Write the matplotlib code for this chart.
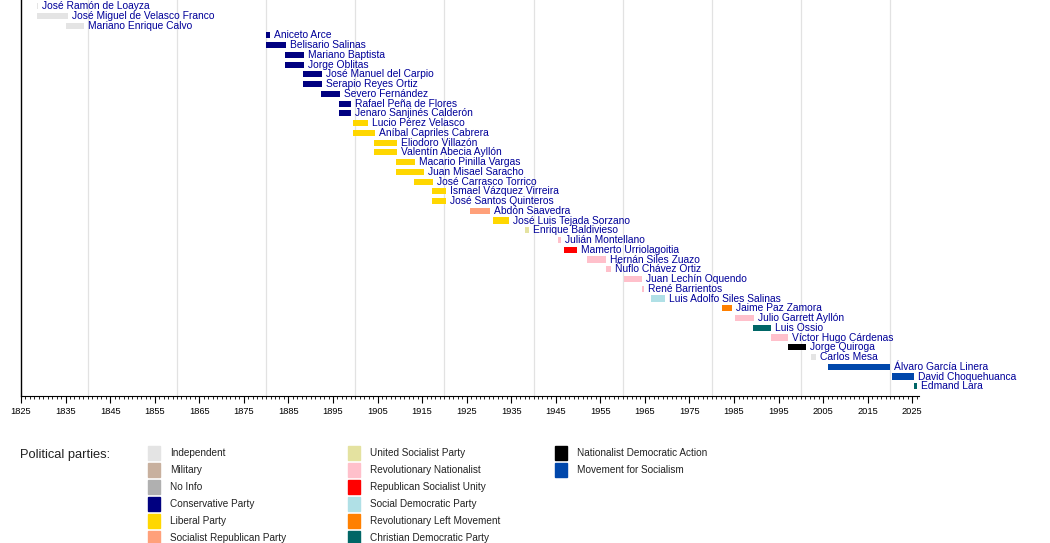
import matplotlib
matplotlib.use("Agg")
import matplotlib.pyplot as plt
from matplotlib.patches import Rectangle
from matplotlib.ticker import MultipleLocator

plt.rcParams['font.family'] = ['Liberation Sans', 'DejaVu Sans']

# vice presidents, term start / end (decimal years), party
names = [
    "José Ramón de Loayza", "José Miguel de Velasco Franco", "Mariano Enrique Calvo",
    "Aniceto Arce", "Belisario Salinas", "Mariano Baptista", "Jorge Oblitas",
    "José Manuel del Carpio", "Serapio Reyes Ortiz", "Severo Fernández",
    "Rafael Peña de Flores", "Jenaro Sanjinés Calderón", "Lucio Pérez Velasco",
    "Aníbal Capriles Cabrera", "Eliodoro Villazón", "Valentín Abecia Ayllón",
    "Macario Pinilla Vargas", "Juan Misael Saracho", "José Carrasco Torrico",
    "Ismael Vázquez Virreira", "José Santos Quinteros", "Abdón Saavedra",
    "José Luis Tejada Sorzano", "Enrique Baldivieso", "Julián Montellano",
    "Mamerto Urriolagoitia", "Hernán Siles Zuazo", "Ñuflo Chávez Ortiz",
    "Juan Lechín Oquendo", "René Barrientos", "Luis Adolfo Siles Salinas",
    "Jaime Paz Zamora", "Julio Garrett Ayllón", "Luis Ossio", "Víctor Hugo Cárdenas",
    "Jorge Quiroga", "Carlos Mesa", "Álvaro García Linera", "David Choquehuanca",
    "Edmand Lara",
]
starts = [
    1828.6, 1828.6, 1835.1, 1880.0, 1880.0, 1884.3, 1884.3, 1888.3, 1888.3, 1892.4,
    1896.4, 1896.4, 1899.5, 1899.5, 1904.2, 1904.2, 1909.2, 1909.2, 1913.2, 1917.3,
    1917.3, 1925.7, 1930.8, 1938.0, 1945.6, 1946.8, 1952.0, 1956.3, 1960.3, 1964.3,
    1966.3, 1982.3, 1985.2, 1989.2, 1993.3, 1997.1, 2002.2, 2006.0, 2020.4, 2025.3,
]
ends = [
    1828.9, 1835.5, 1839.1, 1880.8, 1884.4, 1888.5, 1888.5, 1892.5, 1892.5, 1896.5,
    1899.1, 1899.1, 1902.9, 1904.4, 1909.3, 1909.3, 1913.3, 1915.5, 1917.4, 1920.4,
    1920.4, 1930.2, 1934.6, 1938.9, 1946.1, 1949.7, 1956.2, 1957.4, 1964.3, 1964.8,
    1969.4, 1984.6, 1989.5, 1993.4, 1997.1, 2001.1, 2003.5, 2019.9, 2025.4, 2026.0,
]
parties = [
    "Independent", "Independent", "Independent",
    "Conservative Party", "Conservative Party", "Conservative Party", "Conservative Party",
    "Conservative Party", "Conservative Party", "Conservative Party",
    "Conservative Party", "Conservative Party",
    "Liberal Party", "Liberal Party", "Liberal Party", "Liberal Party", "Liberal Party",
    "Liberal Party", "Liberal Party", "Liberal Party", "Liberal Party",
    "Socialist Republican Party", "Liberal Party", "United Socialist Party",
    "Revolutionary Nationalist", "Republican Socialist Unity",
    "Revolutionary Nationalist", "Revolutionary Nationalist", "Revolutionary Nationalist",
    "Revolutionary Nationalist", "Social Democratic Party",
    "Revolutionary Left Movement", "Revolutionary Nationalist", "Christian Democratic Party",
    "Revolutionary Nationalist", "Nationalist Democratic Action", "Independent",
    "Movement for Socialism", "Movement for Socialism", "Christian Democratic Party",
]

party_names = [
    "Independent", "Military", "No Info", "Conservative Party", "Liberal Party",
    "Socialist Republican Party", "United Socialist Party", "Revolutionary Nationalist",
    "Republican Socialist Unity", "Social Democratic Party", "Revolutionary Left Movement",
    "Christian Democratic Party", "Nationalist Democratic Action", "Movement for Socialism",
]
party_colors = [
    "#e4e4e4", "#c8b09e", "#b0b0b0", "#000080", "#ffd700",
    "#ffa07a", "#e4e2a0", "#ffc0cb", "#ff0000", "#b0e0e6", "#ff8000",
    "#006666", "#000000", "#0047ab",
]
colors = dict(zip(party_names, party_colors))

W, H = 1050, 543
fig = plt.figure(figsize=(W / 100, H / 100), dpi=100)
x0, x1, ybot = 21, 919, 396
ax = fig.add_axes([x0 / W, 1 - ybot / H, (x1 - x0) / W, ybot / H])

rows = list(range(len(names)))
ax.barh(rows, [e - s for s, e in zip(starts, ends)], left=starts, height=0.62,
        color=[colors[p] for p in parties], zorder=3)

for r, e, n in zip(rows, ends, names):
    ax.annotate(n, (e, r), xytext=(4, 0), textcoords="offset pixels",
                va="center", ha="left", fontsize=7.4, color="#000099", zorder=4)

ax.set_xlim(1825, 2026.5)
ax.set_ylim(40.0, -0.62)

ax.xaxis.set_major_locator(MultipleLocator(10))
ax.xaxis.set_minor_locator(MultipleLocator(1))
ax.set_xticks(range(1825, 2026, 10))
ax.tick_params(axis="x", which="major", length=5, width=0.8, labelsize=6.7, pad=3)
ax.tick_params(axis="x", which="minor", length=2.5, width=0.6)
ax.set_yticks([])
for yr in range(1840, 2021, 20):
    ax.axvline(yr, color="#e2e2e2", lw=0.9, zorder=1)
for s in ("top", "right"):
    ax.spines[s].set_visible(False)
ax.spines["left"].set_linewidth(1.0)
ax.spines["bottom"].set_linewidth(0.8)

# legend drawn by hand in pixel positions
fig.text(20 / W, 1 - 455 / H, "Political parties:", fontsize=9.3, va="center", ha="left",
         color="#222222")
col_sw = [148, 348, 555]
row_y = [453, 470, 487, 504, 521, 538]
for i, (pn, pc) in enumerate(zip(party_names, party_colors)):
    c, r = divmod(i, 6)
    sx, sy = col_sw[c], row_y[r]
    fig.patches.append(Rectangle((sx / W, 1 - (sy + 7) / H), 12 / W, 14 / H,
                                 transform=fig.transFigure, color=pc, figure=fig))
    fig.text((sx + 22) / W, 1 - sy / H, pn, fontsize=7.2, va="center", ha="left",
             color="#222222")

fig.savefig("out.png", dpi=100)
